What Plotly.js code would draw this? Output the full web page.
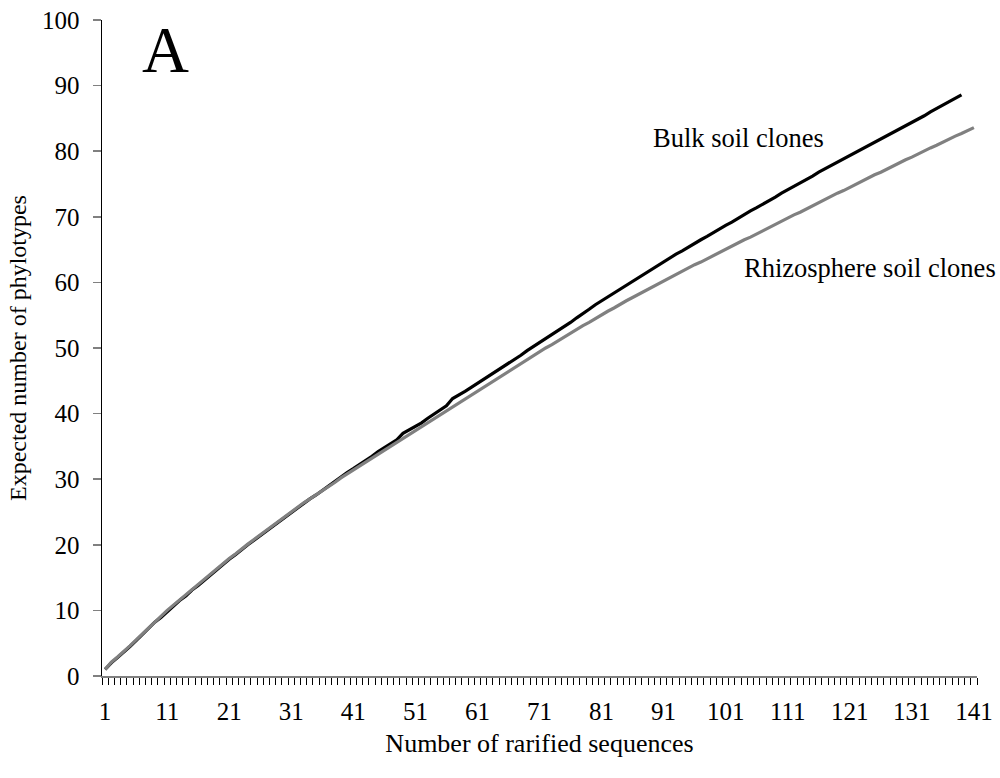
<!DOCTYPE html>
<html>
<head>
<meta charset="utf-8">
<script src="https://cdn.plot.ly/plotly-3.0.1.min.js"></script>
<style>html,body{margin:0;padding:0;background:#fff;}#chart{width:1000px;height:778px;}</style>
</head>
<body>
<div id="chart"></div>
<script>
const bulkSoil = [
  1.0, 2.0, 2.8, 3.6, 4.5, 5.4, 6.3, 7.2, 8.2, 8.9, 9.8,
  10.6, 11.5, 12.2, 13.1, 13.8, 14.6, 15.5, 16.2, 17.0, 17.8,
  18.5, 19.3, 20.0, 20.7, 21.4, 22.1, 22.8, 23.6, 24.3, 25.0,
  25.6, 26.3, 27.0, 27.6, 28.3, 29.0, 29.6, 30.3, 31.0, 31.6,
  32.2, 32.8, 33.5, 34.2, 34.8, 35.4, 36.0, 37.0, 37.5, 38.0,
  38.6, 39.3, 39.9, 40.6, 41.2, 42.3, 42.8, 43.4, 44.0, 44.6,
  45.2, 45.8, 46.4, 47.0, 47.7, 48.3, 48.9, 49.6, 50.2, 50.8,
  51.4, 52.0, 52.7, 53.3, 53.9, 54.6, 55.2, 55.9, 56.6, 57.2,
  57.8, 58.4, 59.0, 59.6, 60.2, 60.8, 61.4, 62.0, 62.6, 63.2,
  63.7, 64.3, 64.8, 65.4, 65.9, 66.5, 67.0, 67.6, 68.1, 68.7,
  69.2, 69.8, 70.3, 70.9, 71.4, 71.9, 72.5, 73.0, 73.6, 74.1,
  74.6, 75.2, 75.7, 76.2, 76.8, 77.3, 77.8, 78.3, 78.9, 79.4,
  79.9, 80.4, 80.9, 81.4, 81.9, 82.4, 82.9, 83.4, 83.9, 84.4,
  84.9, 85.4, 86.0, 86.5, 87.0, 87.6, 88.1, 88.6
];
const rhizosphereSoil = [
  1.0, 2.1, 2.9, 3.7, 4.6, 5.5, 6.4, 7.3, 8.3, 9.1, 10.0,
  10.8, 11.6, 12.4, 13.2, 14.0, 14.8, 15.6, 16.3, 17.1, 17.9,
  18.6, 19.4, 20.1, 20.8, 21.5, 22.2, 22.9, 23.7, 24.4, 25.1,
  25.7, 26.4, 27.0, 27.6, 28.3, 28.9, 29.5, 30.2, 30.8, 31.4,
  32.0, 32.6, 33.2, 33.8, 34.4, 35.0, 35.7, 36.3, 36.9, 37.5,
  38.1, 38.7, 39.3, 39.9, 40.5, 41.1, 41.7, 42.3, 42.9, 43.5,
  44.1, 44.7, 45.3, 45.9, 46.5, 47.1, 47.6, 48.2, 48.8, 49.4,
  50.0, 50.5, 51.1, 51.7, 52.2, 52.8, 53.4, 53.9, 54.5, 55.1,
  55.6, 56.1, 56.7, 57.2, 57.7, 58.2, 58.7, 59.3, 59.8, 60.3,
  60.8, 61.3, 61.7, 62.2, 62.7, 63.1, 63.6, 64.1, 64.5, 65.0,
  65.5, 66.0, 66.5, 66.9, 67.4, 67.9, 68.4, 68.8, 69.3, 69.8,
  70.3, 70.7, 71.2, 71.7, 72.2, 72.6, 73.1, 73.6, 74.0, 74.5,
  75.0, 75.4, 75.9, 76.4, 76.8, 77.3, 77.7, 78.2, 78.7, 79.1,
  79.6, 80.0, 80.5, 80.9, 81.4, 81.8, 82.3, 82.7, 83.2, 83.6
];
const xTickLabels = ["1","11","21","31","41","51","61","71","81","91","101","111","121","131","141"];
const yTickValues = [0,10,20,30,40,50,60,70,80,90,100];

const xBulk = bulkSoil.map((_, i) => i + 1);
const xRhizo = rhizosphereSoil.map((_, i) => i + 1);
const xTickVals = xTickLabels.map(Number);

const serif = "Liberation Serif, Times New Roman, serif";

const traces = [
  {x: xBulk, y: bulkSoil, type: "scatter", mode: "lines", name: "Bulk soil clones",
   line: {color: "#000000", width: 3.2}},
  {x: xRhizo, y: rhizosphereSoil, type: "scatter", mode: "lines", name: "Rhizosphere soil clones",
   line: {color: "#808080", width: 3.2}}
];

const layout = {
  width: 1000, height: 778,
  margin: {l: 102, r: 23, t: 20, b: 102},
  paper_bgcolor: "#ffffff", plot_bgcolor: "#ffffff",
  showlegend: false,
  font: {family: serif, size: 24, color: "#000000"},
  xaxis: {
    range: [0.5, 141.5],
    tickmode: "array", tickvals: xTickVals, ticktext: xTickLabels,
    ticks: "outside", ticklen: 0, tickcolor: "#000000",
    minor: {ticks: "outside", ticklen: 7, tickwidth: 1, tickcolor: "#000000", tick0: 0.5, dtick: 1, showgrid: false},
    ticklabelstandoff: 12,
    showline: true, linecolor: "#808080", linewidth: 2,
    showgrid: false, zeroline: false,
    tickfont: {family: serif, size: 25, color: "#000000"},
    title: {text: "Number of rarified sequences", font: {family: serif, size: 26, color: "#000000"}, standoff: 10}
  },
  yaxis: {
    range: [0, 100],
    tickmode: "array", tickvals: yTickValues,
    ticks: "outside", ticklen: 8, tickwidth: 1.5, tickcolor: "#808080",
    ticklabelstandoff: 8,
    showline: true, linecolor: "#000000", linewidth: 1.5,
    showgrid: false, zeroline: false,
    tickfont: {family: serif, size: 25, color: "#000000"},
    title: {text: "Expected number of phylotypes", font: {family: serif, size: 24, color: "#000000"}, standoff: 8}
  },
  annotations: [
    {text: "A", xref: "x", yref: "y", x: 10.8, y: 95.5, xanchor: "center", yanchor: "middle",
     showarrow: false, font: {family: serif, size: 65, color: "#000000"}},
    {text: "Bulk soil clones", xref: "x", yref: "y", x: 88.9, y: 82, xanchor: "left", yanchor: "middle",
     showarrow: false, font: {family: serif, size: 26.5, color: "#000000"}},
    {text: "Rhizosphere soil clones", xref: "x", yref: "y", x: 103.6, y: 62.2, xanchor: "left", yanchor: "middle",
     showarrow: false, font: {family: serif, size: 26.5, color: "#000000"}}
  ]
};

Plotly.newPlot("chart", traces, layout, {displayModeBar: false, staticPlot: true});
</script>
</body>
</html>
